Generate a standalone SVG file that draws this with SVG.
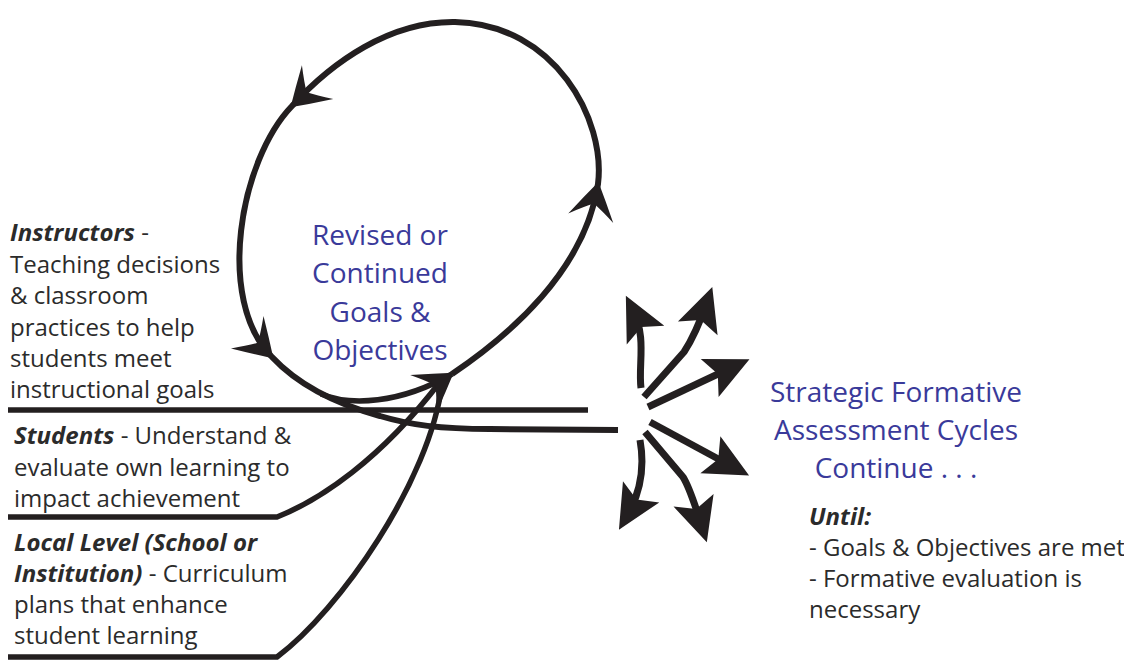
<svg xmlns="http://www.w3.org/2000/svg" xmlns:xlink="http://www.w3.org/1999/xlink" width="1124" height="660" viewBox="0 0 1124 660">
  <style>
    .ln{fill:none;stroke:#231f20;stroke-width:5.5;stroke-linejoin:round;stroke-linecap:butt}
    .cyc{stroke-width:6}
    .burst{fill:none;stroke:#231f20;stroke-width:7;stroke-linejoin:round;marker-end:url(#head)}
    .ink{fill:#231f20}
    .txt{font-family:"Open Sans","Noto Sans",sans-serif;font-size:24px;fill:#2b2b2b}
    .lbl{font-weight:bold;font-style:italic}
    .blue{font-family:"Open Sans","Noto Sans",sans-serif;font-size:28px;fill:#3a3a9a;text-anchor:middle}
  </style>
  <defs>
    <!-- solid notched head, tip 16px past the end of the line -->
    <marker id="head" markerUnits="userSpaceOnUse" orient="auto" overflow="visible" markerWidth="1" markerHeight="1" refX="0" refY="0">
      <path class="ink" d="M16 0 L-28 -21 L-19 0 L-28 21 Z"/>
    </marker>
    <!-- barbed head for the cycle, tip at origin pointing along +x -->
    <path id="barb" class="ink" d="M2 0 Q-15 -11 -35 -23 Q-25 -9 -20 0 Q-25 9 -35 23 Q-15 11 2 0 Z"/>
  </defs>

  <g id="connectors">
    <!-- input lines from the three levels -->
    <path class="ln" d="M8 410 L588 410"/>
    <path class="ln" d="M8 517 L277 517 C320 500 380 460 440 382"/>
    <path class="ln" d="M8 657 L277 657 C340 610 430 480 442 384"/>

    <!-- the revision cycle -->
    <path class="ln cyc" d="M452 374 C510 335 585 270 598 184 C606 120 555 24 455 22 C390 21 332 62 292 106 C240 160 215 300 272 357 C300 387 340 405 380 416 C410 425 440 429 490 429 L618 430"/>
    <path class="ln" d="M321 394 C350 406 400 404 452 374"/>
    <use xlink:href="#barb" transform="translate(452 374) rotate(-34.8)"/>
    <use xlink:href="#barb" transform="translate(598 184) rotate(-78)"/>
    <use xlink:href="#barb" transform="translate(292 106) rotate(137)"/>
    <use xlink:href="#barb" transform="translate(272 357) rotate(45)"/>

    <!-- outward burst -->
    <path class="burst" d="M641 388 C638 365 647 338 633 310"/>
    <path class="burst" d="M644 397 L684 352 C692 340 700 322 707 302"/>
    <path class="burst" d="M648 407 L735 366"/>
    <path class="burst" d="M650 422 L735 468"/>
    <path class="burst" d="M645 432 L683 477 C690 488 696 508 702 527"/>
    <path class="burst" d="M640 440 C645 468 641 492 627 516"/>
  </g>

  <g id="goals">
    <text class="blue" x="380" y="245">Revised or</text>
    <text class="blue" x="380" y="283">Continued</text>
    <text class="blue" x="380" y="322">Goals &amp;</text>
    <text class="blue" x="380" y="360">Objectives</text>
  </g>

  <g id="instructors" class="txt">
    <text x="10" y="241"><tspan class="lbl">Instructors</tspan> -</text>
    <text x="10" y="273">Teaching decisions</text>
    <text x="10" y="304">&amp; classroom</text>
    <text x="10" y="336">practices to help</text>
    <text x="10" y="367">students meet</text>
    <text x="10" y="398">instructional goals</text>
  </g>

  <g id="students" class="txt">
    <text x="14" y="444"><tspan class="lbl">Students</tspan> - Understand &amp;</text>
    <text x="14" y="476">evaluate own learning to</text>
    <text x="14" y="507">impact achievement</text>
  </g>

  <g id="local" class="txt">
    <text x="14" y="551"><tspan class="lbl">Local Level (School or</tspan></text>
    <text x="14" y="582"><tspan class="lbl">Institution)</tspan> - Curriculum</text>
    <text x="14" y="613">plans that enhance</text>
    <text x="14" y="644">student learning</text>
  </g>

  <g id="strategic">
    <text class="blue" x="896" y="402">Strategic Formative</text>
    <text class="blue" x="896" y="440">Assessment Cycles</text>
    <text class="blue" x="896" y="478">Continue . . .</text>
  </g>

  <g id="until" class="txt">
    <text x="809" y="525"><tspan class="lbl">Until:</tspan></text>
    <text x="809" y="556">- Goals &amp; Objectives are met</text>
    <text x="809" y="587">- Formative evaluation is</text>
    <text x="809" y="618">necessary</text>
  </g>
</svg>
